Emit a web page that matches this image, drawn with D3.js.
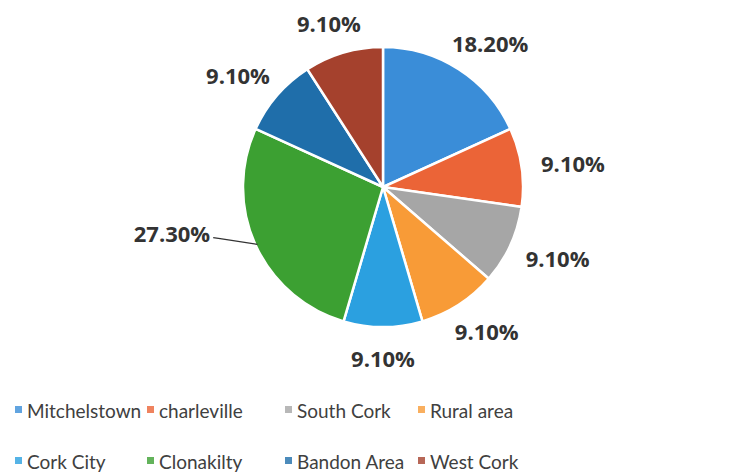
<!DOCTYPE html>
<html>
<head>
<meta charset="utf-8">
<script src="https://cdn.jsdelivr.net/npm/d3@7"></script>
<style>
  body { margin: 0; background: #fff; }
  svg { display: block; }
  .lbl { font-family: "Open Sans", "Liberation Sans", sans-serif; font-weight: bold; fill: #333; }
  .leg text { font-family: Lato, "Liberation Sans", sans-serif; fill: #404040; }
</style>
</head>
<body>
<div id="chart"></div>
<script>
// Data
const categories = ["Mitchelstown", "charleville", "South Cork", "Rural area",
                    "Cork City", "Clonakilty", "Bandon Area", "West Cork"];
const shares = [18.2, 9.1, 9.1, 9.1, 9.1, 27.3, 9.1, 9.1];
const labels = ["18.20%", "9.10%", "9.10%", "9.10%", "9.10%", "27.30%", "9.10%", "9.10%"];
const colors = ["#3a8dd8", "#eb6437", "#a6a6a6", "#f89b37",
                "#2ba0e0", "#3ca032", "#1f6eaa", "#a5412d"];

const width = 737, height = 475;
const cx = 383, cy = 187, radius = 140;

const svg = d3.select("#chart").append("svg")
    .attr("width", width)
    .attr("height", height);

const data = categories.map((c, i) => ({ name: c, value: shares[i], label: labels[i], color: colors[i] }));

const pie = d3.pie().sort(null).value(d => d.value);
const arc = d3.arc().innerRadius(0).outerRadius(radius);
const arcs = pie(data);

const g = svg.append("g").attr("transform", `translate(${cx},${cy})`);

g.selectAll("path.slice")
  .data(arcs)
  .enter().append("path")
    .attr("class", "slice")
    .attr("d", arc)
    .attr("fill", d => d.data.color)
    .attr("stroke", "#fff")
    .attr("stroke-width", 2.5);

// outside-end labels; the biggest slice gets pushed out with a leader line
const maxVal = d3.max(shares);
const fontSize = 22;
const labG = g.append("g");
arcs.forEach(d => {
  const a = (d.startAngle + d.endAngle) / 2;
  const big = d.data.value === maxVal;
  const r0 = radius + 6;
  const px = Math.sin(a) * r0, py = -Math.cos(a) * r0;
  const t = labG.append("text")
      .attr("class", "lbl")
      .attr("font-size", fontSize)
      .attr("text-anchor", "middle")
      .attr("dominant-baseline", "central")
      .text(d.data.label);
  const w = t.node().getComputedTextLength();
  const h = fontSize;
  const gap = 14;
  let x, y;
  if (big) {
    x = px - (w / 2 + 40);
    y = py - 15;
  } else {
    x = Math.sin(a) * (r0 + w / 2 + gap);
    y = -Math.cos(a) * (r0 + h / 2 + gap);
  }
  t.attr("x", x).attr("y", y);
  if (big) {
    const ex = Math.sin(a) * (radius - 2), ey = -Math.cos(a) * (radius - 2);
    labG.append("path")
      .attr("d", `M${x + w / 2 + 3},${y + 5}L${x + w / 2 + 10},${y + 6}L${ex},${ey}`)
      .attr("fill", "none")
      .attr("stroke", "#333")
      .attr("stroke-width", 1.3);
  }
});

// legend: two rows of four
const colX = [15, 147, 285, 418];
const rowY = [410, 461];
const leg = svg.append("g").attr("class", "leg");
const items = leg.selectAll("g")
  .data(data)
  .enter().append("g")
    .attr("transform", (d, i) => `translate(${colX[i % 4]},${rowY[Math.floor(i / 4)]})`);
items.append("rect")
    .attr("x", 0).attr("y", -4)
    .attr("width", 7).attr("height", 7)
    .attr("fill", d => d.color)
    .attr("opacity", 0.8);
items.append("text")
    .attr("x", 12)
    .attr("dominant-baseline", "central")
    .attr("font-size", 19)
    .text(d => d.name);
</script>
</body>
</html>
